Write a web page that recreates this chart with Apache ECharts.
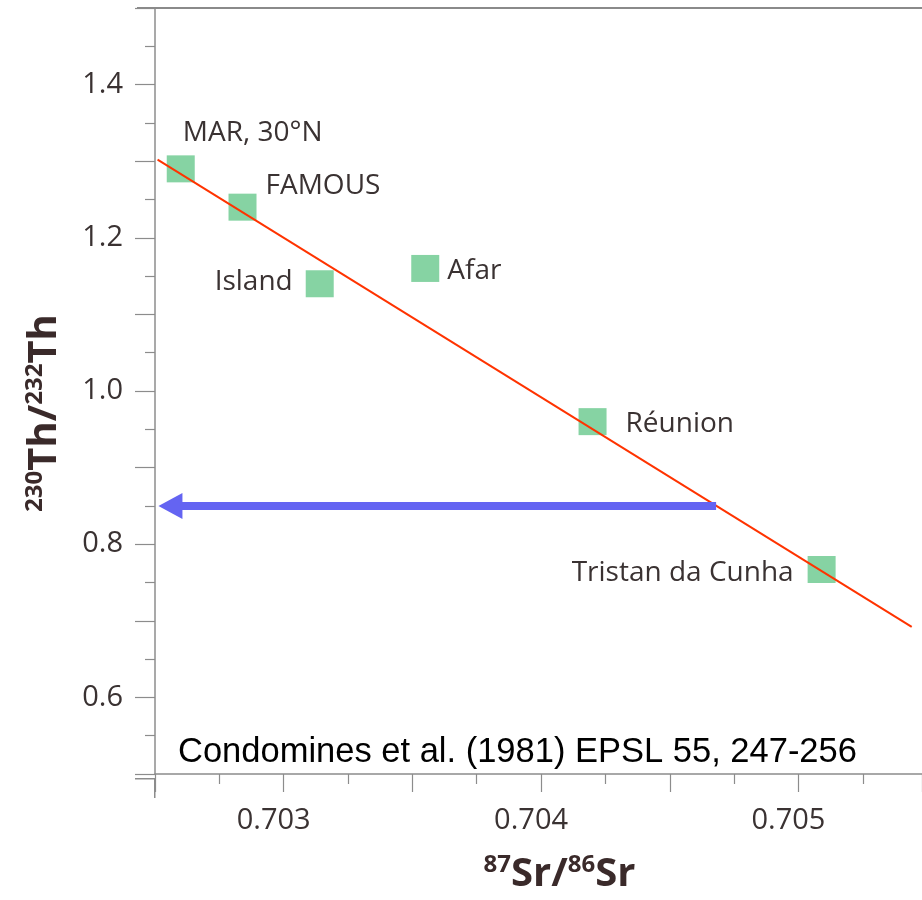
<!DOCTYPE html>
<html>
<head>
<meta charset="utf-8">
<script src="https://cdn.jsdelivr.net/npm/echarts@6/dist/echarts.min.js"></script>
<style>
html,body{margin:0;padding:0;background:#fff;}
#chart{width:922px;height:900px;}
</style>
</head>
<body>
<div id="chart"></div>
<script>
// ---- data ----
const sampleNames = ['MAR, 30°N', 'FAMOUS', 'Island', 'Afar', 'Réunion', 'Tristan da Cunha'];
const srRatio = [0.70260, 0.70284, 0.70314, 0.70355, 0.70420, 0.70509];
const thRatio = [1.29, 1.24, 1.14, 1.16, 0.96, 0.767];
const trendX = [0.70251, 0.70544];
const trendY = [1.302, 0.692];
const arrowX = [0.70468, 0.70256];
const arrowY = [0.85, 0.85];
const xTickLabels = ['0.703', '0.704', '0.705'];
const yTickLabels = ['0.6', '0.8', '1.0', '1.2', '1.4'];
const citation = 'Condomines et al. (1981) EPSL 55, 247-256';

// label placement (style, kept separate from data)
const labelPlace = [
  {pos: [16, -22], align: 'left'},
  {pos: [37, -8], align: 'left'},
  {pos: [-13, 12], align: 'right'},
  {pos: [36, 16], align: 'left'},
  {pos: [47, 16], align: 'left'},
  {pos: [-14, 17], align: 'right'}
];

const axisGray = '#8c8c8c';
const textCol = '#3a3232';
const titleCol = '#3a2a2a';

const scatterData = srRatio.map((x, i) => ({
  value: [x, thRatio[i]],
  name: sampleNames[i],
  label: {
    show: true,
    position: labelPlace[i].pos,
    align: labelPlace[i].align,
    verticalAlign: 'middle',
    formatter: sampleNames[i]
  }
}));

const richTitle = {
  b: {fontFamily: '"Open Sans", sans-serif', fontWeight: 'bold', fontSize: 40, lineHeight: 44, color: titleCol},
  sup: {fontFamily: '"Open Sans", sans-serif', fontWeight: 'bold', fontSize: 24, lineHeight: 24, verticalAlign: 'top', color: titleCol}
};

const chart = echarts.init(document.getElementById('chart'), null, {renderer: 'canvas'});
chart.setOption({
  backgroundColor: '#ffffff',
  animation: false,
  title: {
    text: citation,
    left: 178,
    top: 735,
    padding: 0,
    textStyle: {fontFamily: '"Liberation Sans", Arial, sans-serif', fontSize: 34.5, fontWeight: 'normal', color: '#000'}
  },
  grid: {left: 155, right: 0, top: 8, bottom: 121, containLabel: false},
  xAxis: [{
    type: 'value',
    min: 0.7025,
    max: 0.70548,
    interval: 0.0005,
    splitLine: {show: false},
    axisLine: {show: true, lineStyle: {color: axisGray, width: 1.5}},
    axisTick: {show: true, inside: false, length: 18, lineStyle: {color: axisGray, width: 1.2}},
    minorTick: {show: true, splitNumber: 2, length: 10, lineStyle: {color: axisGray, width: 1.2}},
    axisLabel: {
      margin: 32,
      padding: [0, 20, 0, 0],
      fontFamily: '"Open Sans", sans-serif',
      fontSize: 29,
      color: textCol,
      showMaxLabel: false,
      formatter: v => {
        const s = v.toFixed(3);
        return (xTickLabels.includes(s) && Math.abs(v - parseFloat(s)) < 1e-7) ? s : '';
      }
    },
    name: '{sup|87}{b|Sr/}{sup|86}{b|Sr}',
    nameLocation: 'middle',
    nameGap: 79,
    nameTextStyle: {padding: [0, 0, 0, 42], rich: richTitle}
  }],
  yAxis: {
    type: 'value',
    min: 0.5,
    max: 1.5,
    interval: 0.1,
    splitLine: {show: false},
    axisLine: {show: true, lineStyle: {color: axisGray, width: 1.5}},
    axisTick: {show: true, length: 20, lineStyle: {color: axisGray, width: 1.2}},
    minorTick: {show: true, splitNumber: 2, length: 10, lineStyle: {color: axisGray, width: 1.2}},
    axisLabel: {
      margin: 32,
      padding: [0, 0, 10, 0],
      fontFamily: '"Open Sans", sans-serif',
      fontSize: 29,
      color: textCol,
      formatter: v => {
        const s = v.toFixed(1);
        return (yTickLabels.includes(s) && Math.abs(v - parseFloat(s)) < 1e-6) ? s : '';
      }
    },
    name: '{sup|230}{b|Th/}{sup|232}{b|Th}',
    nameLocation: 'middle',
    nameRotate: 90,
    nameGap: 88,
    nameTextStyle: {padding: [0, 44, 0, 0], rich: richTitle}
  },
  graphic: {
    elements: [
      {type: 'rect', left: 137, top: 7, z: 100, shape: {width: 785, height: 2}, style: {fill: '#8a8a8a'}},
      {type: 'rect', left: 135, top: 778, z: 100, shape: {width: 20, height: 1.5}, style: {fill: axisGray}},
      {type: 'rect', left: 154, top: 779, z: 100, shape: {width: 1.5, height: 19}, style: {fill: axisGray}}
    ]
  },
  series: [
    {
      type: 'scatter',
      symbol: 'rect',
      symbolSize: [28, 27],
      itemStyle: {color: '#86d3a3', opacity: 1},
      label: {fontFamily: '"Open Sans", sans-serif', fontSize: 28, color: textCol},
      data: scatterData,
      z: 2
    },
    {
      type: 'line',
      data: trendX.map((x, i) => [x, trendY[i]]),
      showSymbol: false,
      symbol: 'none',
      lineStyle: {color: '#ff3300', width: 2},
      z: 4
    },
    {
      type: 'line',
      data: [],
      z: 3,
      markLine: {
        silent: true,
        animation: false,
        symbol: ['none', 'triangle'],
        symbolSize: [26, 24],
        label: {show: false},
        lineStyle: {color: '#6464f2', width: 8, type: 'solid'},
        data: [[{coord: [arrowX[0], arrowY[0]]}, {coord: [arrowX[1], arrowY[1]]}]]
      }
    }
  ]
});
</script>
</body>
</html>
